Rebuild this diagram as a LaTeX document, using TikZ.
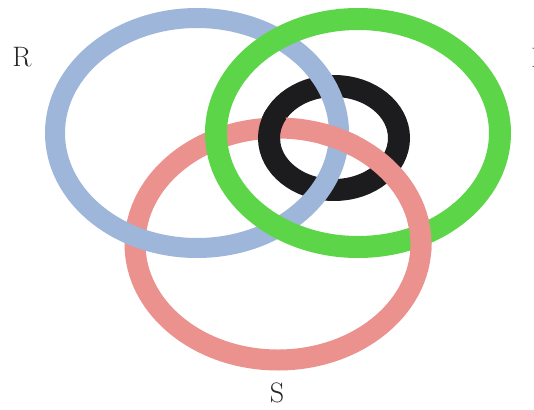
\documentclass[tikz,border=0pt]{standalone}
\usepackage{xcolor}
\usepackage{tikz}
\definecolor{ringblue}{RGB}{157,182,217}
\definecolor{ringgreen}{RGB}{92,214,72}
\definecolor{ringpink}{RGB}{236,146,142}
\definecolor{ringblack}{RGB}{28,28,30}

\begin{document}
\begin{tikzpicture}[x=0.02cm, y=-0.02cm,
  bluering/.style={draw=ringblue, line width=0.40cm},
  greenring/.style={draw=ringgreen, line width=0.44cm},
  pinkring/.style={draw=ringpink, line width=0.42cm},
  blackring/.style={draw=ringblack, line width=0.44cm},
  letter/.style={font=\fontsize{16}{19}\selectfont, text=black!85}]
  \useasboundingbox[fill=white] (0,0) rectangle (534,409);
  \coordinate (cR) at (197,133);
  \coordinate (cI) at (358,133);
  \coordinate (cS) at (278,244);
  \coordinate (cK) at (334,138);
  \draw[blackring] (cK) ellipse [x radius=65, y radius=52];
  \draw[pinkring] (cS) ellipse [x radius=143, y radius=116];
  \draw[bluering] (cR) ellipse [x radius=142, y radius=115];
  \draw[greenring] (cI) ellipse [x radius=142, y radius=114];
  \begin{scope}
    \clip (270,127) circle [radius=18];
    \draw[blackring] (cK) ellipse [x radius=65, y radius=52];
  \end{scope}
  \begin{scope}
    \clip (339,139) circle [radius=20];
    \draw[pinkring] (cS) ellipse [x radius=143, y radius=116];
  \end{scope}
  \begin{scope}
    \clip (420,236) circle [radius=20];
    \draw[pinkring] (cS) ellipse [x radius=143, y radius=116];
  \end{scope}
  \node[letter] (R) at (22,57) {R};
  \node[letter] (I) at (536,58) {I};
  \node[letter] (S) at (277,393) {S};
\end{tikzpicture}
\end{document}
